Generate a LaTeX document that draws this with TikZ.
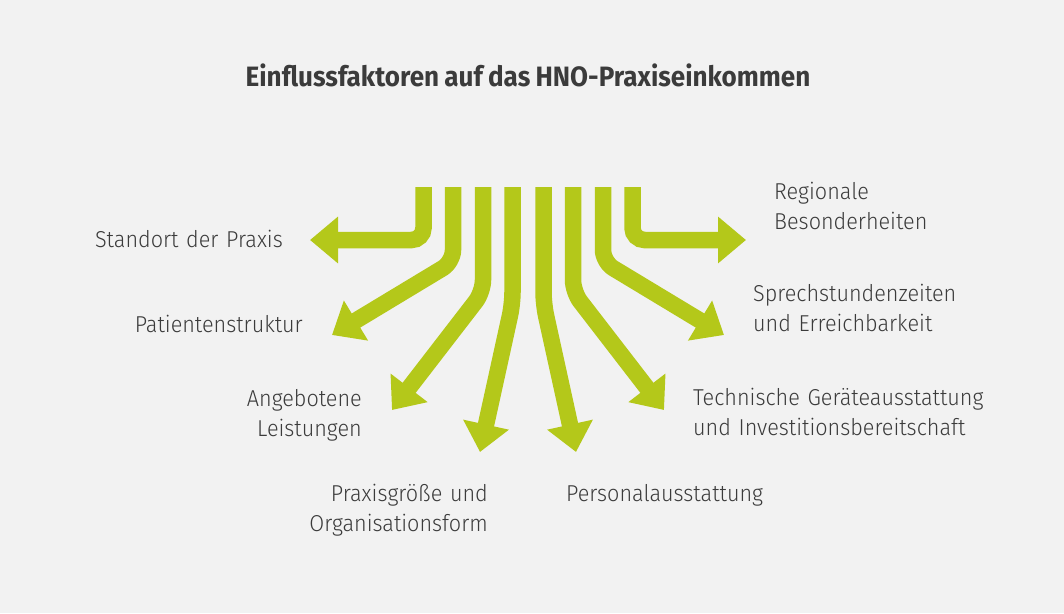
\documentclass[tikz,border=0pt]{standalone}
\usepackage{fontspec}
\setmainfont{Fira Sans Light}[FakeStretch=0.94, WordSpace=0.8]
\newfontfamily\titlefont{Fira Sans Bold}[FakeStretch=0.93, WordSpace=0.85]
\usetikzlibrary{arrows.meta}
\definecolor{bg}{HTML}{F2F2F2}
\definecolor{txt}{HTML}{3B3B3B}
\definecolor{arrowc}{HTML}{B4C81A}
\begin{document}
\begin{tikzpicture}[x=1pt,y=-1pt,
  lab/.style={text=txt, font=\fontsize{23}{30}\selectfont, inner sep=0pt, text width=300pt},
  labr/.style={lab, align=right, anchor=base east},
  labl/.style={lab, align=left, anchor=base west},
  flow/.style={draw=arrowc, line width=16.5pt, line cap=butt, rounded corners=12pt,
    -{Triangle[width=45pt,length=28pt]}}]
\useasboundingbox (0,0) rectangle (1064,613);
\fill[bg] (0,0) rectangle (1064,613);
\node[text=txt, font=\titlefont\fontsize{28}{32}\selectfont, inner sep=0pt, anchor=base] (title) at (528,86.4) {Einflussfaktoren auf das HNO-Praxiseinkommen};
% start and end points
\foreach \i/\x in {1/423.5,2/453,3/483,4/512.5,5/543.5,6/573,7/603,8/632.5}{
  \coordinate (s\i) at (\x,187);
}
\coordinate (b1) at (423.5,240);
\coordinate (e1) at (310,240);
\coordinate (b2) at (453,262);
\coordinate (e2) at (332,335);
\coordinate (b3) at (483,292);
\coordinate (e3) at (392,410);
\coordinate (b4) at (512.5,304);
\coordinate (e4) at (480,452);
\coordinate (b5) at (543.5,304);
\coordinate (e5) at (576,452);
\coordinate (b6) at (573,292);
\coordinate (e6) at (664,410);
\coordinate (b7) at (603,262);
\coordinate (e7) at (724,335);
\coordinate (b8) at (632.5,240);
\coordinate (e8) at (746,240);
\foreach \i in {1,...,8}{
  \draw[flow] (s\i) -- (b\i) -- (e\i);
}
\node[labr] (standort) at (283,247) {Standort der Praxis};
\node[labr] (patienten) at (303,332) {Patientenstruktur};
\node[labr] (angebot) at (362,406) {Angebotene\\Leistungen};
\node[labr] (groesse) at (488,501) {Praxisgröße und\\Organisationsform};
\node[labl] (personal) at (566,501) {Personalausstattung};
\node[labl] (technik) at (693,405) {Technische Geräteausstattung\\und Investitionsbereitschaft};
\node[labl] (sprech) at (753,301) {Sprechstundenzeiten\\und Erreichbarkeit};
\node[labl] (regional) at (774,199) {Regionale\\Besonderheiten};
\end{tikzpicture}
\end{document}
